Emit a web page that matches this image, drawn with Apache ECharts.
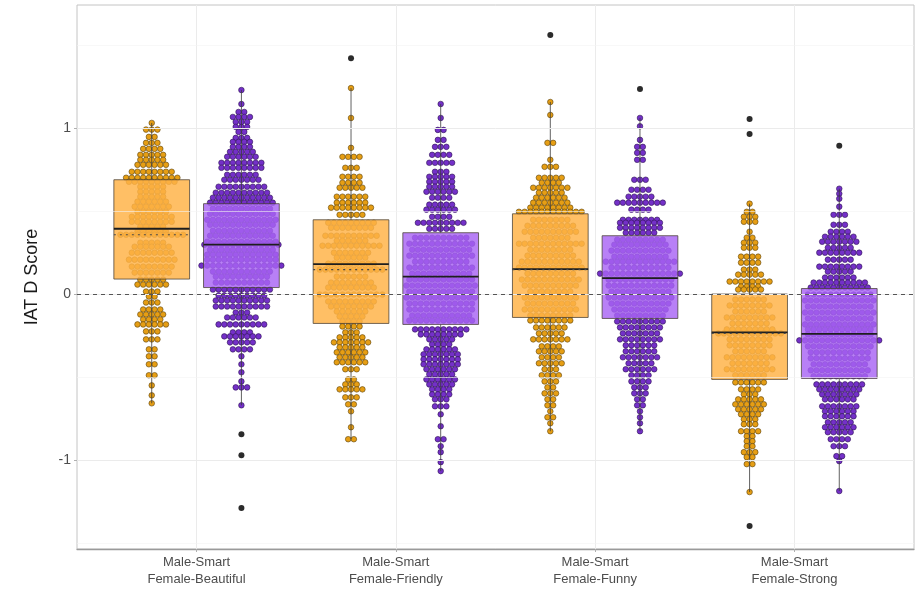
<!DOCTYPE html>
<html>
<head>
<meta charset="utf-8">
<title>IAT D Score</title>
<script src="https://cdn.jsdelivr.net/npm/echarts@6/dist/echarts.min.js"></script>
</head>
<body style="margin:0;background:#fff">
<div id="main" style="width:915px;height:599px;"></div>
<script type="text/javascript">

// categories on the x axis
var categories = ['Male-Smart\nFemale-Beautiful', 'Male-Smart\nFemale-Friendly', 'Male-Smart\nFemale-Funny', 'Male-Smart\nFemale-Strong'];
var yTickValues = [-1, 0, 1];
var yMinorValues = [-1.5, -0.5, 0.5, 1.5];

// dot rows: [IAT D score, number of dots in that row]
var beautifulOrange = [[1.03,1],[0.99,3],[0.946,2],[0.91,3],[0.874,4],[0.838,5],[0.808,5],[0.778,6],[0.736,8],[0.70,10],[0.676,9],
  [0.646,5],[0.616,5],[0.586,5],[0.556,6],[0.526,7],[0.495,6],[0.465,8],[0.435,8],[0.405,5],[0.375,6],[0.357,12],[0.309,5],[0.285,7],[0.249,8],[0.207,9],[0.165,8],[0.129,7],
  [0.087,5],[0.057,6],[0.015,3],[-0.015,2],[-0.051,3],[-0.093,4],[-0.123,5],[-0.153,4],[-0.183,6],[-0.225,3],[-0.273,3],[-0.333,2],[-0.375,2],[-0.423,2],[-0.489,2],[-0.55,1],[-0.61,1],[-0.658,1]];
var beautifulPurple = [[1.228,1],[1.144,1],[1.096,2],[1.066,4],[1.036,3],[1.006,3],[0.976,2],[0.94,3],[0.916,4],[0.886,4],[0.856,5],[0.826,6],[0.79,8],[0.76,8],[0.718,6],[0.688,7],[0.646,9],[0.61,10],[0.58,11],[0.55,12],
  [0.514,11],[0.483,12],[0.447,13],[0.417,12],[0.381,11],[0.351,12],[0.315,13],[0.297,14],[0.267,12],[0.237,13],[0.207,13],[0.171,15],[0.135,11],[0.105,10],[0.069,10],
  [0.027,11],[-0.009,9],[-0.039,10],[-0.075,10],[-0.111,3],[-0.141,6],[-0.183,9],[-0.231,4],[-0.255,7],[-0.291,5],[-0.333,4],[-0.375,1],[-0.423,1],[-0.471,1],[-0.526,1],[-0.562,3],[-0.67,1]];
var friendlyOrange = [[1.24,1],[1.06,1],[0.88,1],[0.826,4],[0.76,3],[0.706,4],[0.67,4],[0.64,5],[0.586,6],[0.55,6],[0.52,8],[0.477,5],
  [0.429,9],[0.399,8],[0.351,10],[0.321,6],[0.291,11],[0.249,7],[0.219,6],[0.183,9],[0.147,12],[0.105,6],[0.069,8],[0.039,9],[-0.003,12],[-0.045,9],[-0.075,8],[-0.105,6],[-0.135,5],[-0.165,4],
  [-0.195,4],[-0.231,3],[-0.261,5],[-0.291,7],[-0.321,5],[-0.351,6],[-0.381,5],[-0.411,6],[-0.453,3],[-0.514,2],[-0.544,3],[-0.574,5],[-0.622,3],[-0.664,2],[-0.706,1],[-0.802,1],[-0.874,2]];
var friendlyPurple = [[1.144,1],[1.06,1],[0.988,2],[0.928,2],[0.886,3],[0.838,4],[0.79,5],[0.736,3],[0.706,5],[0.676,5],[0.646,5],[0.616,6],[0.58,4],[0.538,5],[0.508,6],[0.465,4],[0.429,9],[0.393,5],
  [0.339,10],[0.303,12],[0.267,11],[0.231,12],[0.195,10],[0.159,12],[0.123,11],[0.087,12],[0.051,13],[0.015,12],[-0.021,13],[-0.057,12],[-0.093,12],[-0.129,11],[-0.159,12],
  [-0.213,10],[-0.243,8],[-0.273,5],[-0.303,4],[-0.333,6],[-0.363,7],[-0.393,7],[-0.423,7],[-0.453,6],[-0.483,5],[-0.514,6],[-0.544,5],[-0.574,4],[-0.604,4],[-0.634,3],[-0.676,3],[-0.724,1],[-0.796,1],[-0.874,2],[-0.916,1],[-0.952,1],[-1.012,1],[-1.066,1]];
var funnyOrange = [[1.156,1],[1.078,1],[0.91,2],[0.808,1],[0.766,3],[0.70,5],[0.67,4],[0.64,7],[0.61,5],[0.58,6],[0.55,7],[0.52,8],[0.495,12],
  [0.447,7],[0.411,9],[0.375,10],[0.339,7],[0.303,12],[0.267,8],[0.231,9],[0.195,11],[0.159,12],[0.123,9],[0.087,11],[0.051,10],[0.015,8],[-0.021,10],[-0.057,9],[-0.093,10],[-0.129,8],
  [-0.159,8],[-0.201,6],[-0.237,5],[-0.273,7],[-0.315,4],[-0.345,5],[-0.381,4],[-0.417,5],[-0.453,3],[-0.489,4],[-0.526,3],[-0.562,2],[-0.598,3],[-0.634,2],[-0.67,2],[-0.706,1],[-0.742,2],[-0.778,1],[-0.826,1]];
var funnyPurple = [[1.06,1],[1.01,1],[0.928,1],[0.886,2],[0.85,2],[0.808,2],[0.688,3],[0.628,4],[0.586,5],[0.55,9],[0.508,4],[0.447,7],[0.429,8],[0.399,8],[0.369,6],
  [0.327,9],[0.297,10],[0.261,11],[0.225,10],[0.195,13],[0.159,11],[0.123,15],[0.087,12],[0.051,12],[0.015,11],[-0.021,12],[-0.057,11],[-0.093,10],[-0.129,9],
  [-0.165,9],[-0.201,8],[-0.237,7],[-0.273,8],[-0.309,6],[-0.345,6],[-0.381,7],[-0.417,5],[-0.453,6],[-0.489,4],[-0.526,4],[-0.562,3],[-0.598,3],[-0.634,2],[-0.67,2],[-0.706,1],[-0.742,1],[-0.778,1],[-0.826,1]];
var strongOrange = [[0.544,1],[0.495,2],[0.465,3],[0.435,3],[0.375,1],[0.339,2],[0.309,3],[0.279,3],[0.225,4],[0.189,4],[0.147,3],[0.117,5],[0.075,8],[0.045,4],[0.027,5],
  [-0.033,6],[-0.069,8],[-0.105,6],[-0.141,9],[-0.177,7],[-0.213,9],[-0.237,12],[-0.273,8],[-0.309,8],[-0.345,6],[-0.381,9],[-0.417,7],[-0.453,9],[-0.489,6],
  [-0.532,6],[-0.574,4],[-0.604,3],[-0.634,5],[-0.664,6],[-0.694,5],[-0.724,4],[-0.754,3],[-0.784,3],[-0.826,4],[-0.856,2],[-0.886,2],[-0.916,2],[-0.952,3],[-0.982,2],[-1.024,2],[-1.192,1]];
var strongPurple = [[0.634,1],[0.604,1],[0.574,1],[0.526,1],[0.477,3],[0.417,3],[0.375,4],[0.345,6],[0.315,7],[0.279,5],[0.249,8],[0.207,5],[0.165,8],[0.135,5],[0.099,6],[0.069,10],[0.039,11],
  [-0.003,12],[-0.039,13],[-0.075,12],[-0.111,13],[-0.147,12],[-0.183,13],[-0.213,12],[-0.243,12],[-0.279,15],[-0.315,12],[-0.351,11],[-0.387,11],[-0.423,10],[-0.459,11],[-0.495,10],
  [-0.544,9],[-0.574,8],[-0.604,7],[-0.634,6],[-0.676,7],[-0.706,6],[-0.736,6],[-0.772,5],[-0.802,6],[-0.832,5],[-0.874,4],[-0.916,3],[-0.976,2],[-1.006,1],[-1.186,1]];

// box stats per category: [lower whisker, q1, median, q3, upper whisker]
var boxOrange = [[-0.658,0.09,0.393,0.688,1.03],[-0.874,-0.177,0.18,0.447,1.24],[-0.826,-0.141,0.15,0.483,1.156],[-1.192,-0.514,-0.231,0.0,0.544]];
var boxPurple = [[-0.67,0.039,0.297,0.544,1.228],[-1.066,-0.183,0.105,0.369,1.144],[-0.826,-0.147,0.096,0.351,1.06],[-1.186,-0.508,-0.24,0.033,0.634]];
// dotted line inside the orange boxes
var meanOrange = [0.357, 0.147, 0.147, -0.237];
// outliers: [category index, score]
var outliersOrange = [[1,1.42],[2,1.559],[3,1.054],[3,0.964],[3,-1.396]];
var outliersPurple = [[0,-0.844],[0,-0.97],[0,-1.288],[2,1.234],[3,0.892]];

var orangeDodge = -0.225, purpleDodge = 0.225;
var boxWidth = 0.38;
var dotPitch = 5.7, dotR = 2.8;

var orangeDot = '#E69E14', orangeEdge = '#5a4310';
var purpleDot = '#7430C8', purpleEdge = '#2e1450';
var orangeBox = 'rgba(255,179,72,0.84)', purpleBox = 'rgba(168,100,244,0.82)';

var myChart = echarts.init(document.getElementById('main'));

function dotRows(rows, cat, dodge) {
    return rows.map(function (r) { return [cat + 1 + dodge, r[0], r[1]]; });
}

function dotSeries(groups, dodge, fill, edge) {
    var data = [];
    groups.forEach(function (rows, i) { data = data.concat(dotRows(rows, i, dodge)); });
    return {
        type: 'custom',
        z: 2,
        silent: true,
        encode: { x: 0, y: 1 },
        data: data,
        renderItem: function (params, api) {
            var c = api.coord([api.value(0), api.value(1)]);
            var n = api.value(2);
            var kids = [];
            for (var i = 0; i < n; i++) {
                kids.push({
                    type: 'circle',
                    shape: { cx: c[0] + (i - (n - 1) / 2) * dotPitch, cy: c[1], r: dotR },
                    style: { fill: fill, stroke: edge, lineWidth: 0.6 }
                });
            }
            return { type: 'group', children: kids };
        }
    };
}

function boxSeries(stats, means, dodge, fill) {
    var data = stats.map(function (s, i) {
        return [i + 1 + dodge].concat(s).concat([means ? means[i] : NaN]);
    });
    return {
        type: 'custom',
        z: 4,
        silent: true,
        encode: { x: 0, y: [1, 5] },
        data: data,
        renderItem: function (params, api) {
            var x = api.value(0);
            var lw = api.coord([x, api.value(1)]);
            var q1 = api.coord([x, api.value(2)]);
            var md = api.coord([x, api.value(3)]);
            var q3 = api.coord([x, api.value(4)]);
            var uw = api.coord([x, api.value(5)]);
            var half = api.size([boxWidth, 0])[0] / 2;
            var cx = q1[0];
            var line = { stroke: '#3a3a3a', lineWidth: 0.8 };
            var kids = [
                { type: 'line', shape: { x1: cx, y1: uw[1], x2: cx, y2: q3[1] }, style: line },
                { type: 'line', shape: { x1: cx, y1: q1[1], x2: cx, y2: lw[1] }, style: line },
                { type: 'rect', shape: { x: cx - half, y: q3[1], width: half * 2, height: q1[1] - q3[1] },
                  style: { fill: fill, stroke: 'rgba(70,60,50,0.75)', lineWidth: 1 } },
                { type: 'line', shape: { x1: cx - half, y1: md[1], x2: cx + half, y2: md[1] },
                  style: { stroke: '#1e1e1e', lineWidth: 1.8 } }
            ];
            var mv = api.value(6);
            if (!isNaN(mv)) {
                var mc = api.coord([x, mv]);
                kids.push({ type: 'line', shape: { x1: cx - half, y1: mc[1], x2: cx + half, y2: mc[1] },
                    style: { stroke: '#4a4a4a', lineWidth: 1.2, lineDash: [2, 4] } });
            }
            return { type: 'group', children: kids };
        }
    };
}

function outlierSeries(list, dodge) {
    return {
        type: 'scatter',
        z: 5,
        silent: true,
        symbolSize: 6,
        itemStyle: { color: '#2b2b2b', opacity: 1 },
        data: list.map(function (o) { return [o[0] + 1 + dodge, o[1]]; })
    };
}

var gridLine = { color: '#ebebeb', width: 1, type: 'solid' };
var minorLine = { color: '#f4f4f4', width: 0.6, type: 'solid' };

var option = {
    animation: false,
    backgroundColor: '#ffffff',
    grid: { left: 77, right: 1, top: 5, bottom: 50, show: true, borderColor: '#c4c4c4', borderWidth: 1, outerBoundsMode: 'none' },
    xAxis: {
        type: 'value',
        min: 0.4,
        max: 4.6,
        axisLine: { show: true, onZero: false, lineStyle: { color: '#9a9a9a', width: 1.3 } },
        axisTick: { show: true, customValues: [1, 2, 3, 4], length: 3, lineStyle: { color: '#b0b0b0' } },
        axisLabel: {
            customValues: [1, 2, 3, 4],
            formatter: function (v) { return categories[Math.round(v) - 1]; },
            color: '#4d4d4d', fontSize: 13, lineHeight: 17, margin: 5,
            fontFamily: 'Liberation Sans, Arial, sans-serif'
        },
        splitLine: { show: false }
    },
    yAxis: {
        type: 'value',
        min: -1.535,
        max: 1.74,
        name: 'IAT D Score',
        nameLocation: 'middle',
        nameGap: 36,
        nameTextStyle: { fontSize: 18, color: '#1a1a1a', fontFamily: 'Liberation Sans, Arial, sans-serif' },
        axisLine: { show: false, onZero: false },
        axisTick: { show: true, customValues: yTickValues, length: 3, lineStyle: { color: '#b0b0b0' } },
        axisLabel: {
            customValues: yTickValues,
            color: '#4d4d4d', fontSize: 14, margin: 6,
            fontFamily: 'Liberation Sans, Arial, sans-serif'
        },
        splitLine: { show: false }
    },
    series: [
        {
            type: 'scatter',
            z: 1,
            silent: true,
            data: [],
            markLine: {
                silent: true, symbol: 'none', label: { show: false }, animation: false,
                data: categories.map(function (c, i) { return { xAxis: i + 1, lineStyle: gridLine }; })
                    .concat(yTickValues.map(function (v) { return { yAxis: v, lineStyle: gridLine }; }))
                    .concat(yMinorValues.map(function (v) { return { yAxis: v, lineStyle: minorLine }; }))
            }
        },
        dotSeries([beautifulOrange, friendlyOrange, funnyOrange, strongOrange], orangeDodge, orangeDot, orangeEdge),
        dotSeries([beautifulPurple, friendlyPurple, funnyPurple, strongPurple], purpleDodge, purpleDot, purpleEdge),
        {
            type: 'scatter',
            z: 3,
            silent: true,
            data: [],
            markLine: {
                silent: true, symbol: 'none', label: { show: false }, animation: false,
                data: [{ yAxis: 0, lineStyle: { color: '#555555', width: 1, type: [4, 4] } }]
            }
        },
        boxSeries(boxOrange, meanOrange, orangeDodge, orangeBox),
        boxSeries(boxPurple, null, purpleDodge, purpleBox),
        outlierSeries(outliersOrange, orangeDodge),
        outlierSeries(outliersPurple, purpleDodge)
    ]
};

myChart.setOption(option);

</script>
</body>
</html>
